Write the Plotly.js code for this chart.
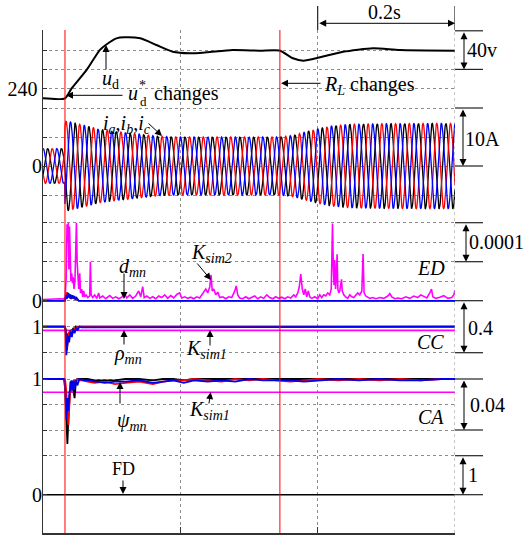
<!DOCTYPE html>
<html><head><meta charset="utf-8">
<script src="https://cdn.plot.ly/plotly-3.0.1.min.js"></script>
<style>html,body{margin:0;padding:0;background:#fff;}#chart{width:523px;height:536px;}</style>
</head><body><div id="chart"></div>
<script>
// ================= DATA =================
const timeRange = [0, 0.6];              // s
const eventTimes = [0.032, 0.345];       // u*d step, R_L step (s)

// DC voltage u_d (V)
const udT = [0, 0.032, 0.0414, 0.0641, 0.0826, 0.0913, 0.107, 0.119, 0.1417, 0.165, 0.189, 0.2137, 0.238, 0.276, 0.3157, 0.3445, 0.364, 0.379, 0.4035, 0.437, 0.481, 0.5196, 0.6];
const udV = [230, 230, 240, 260, 280, 285.3, 292.2, 293.3, 292.2, 285.3, 278.3, 276.7, 277.7, 280.1, 279.4, 279.5, 271.5, 269, 272.5, 278.3, 281.9, 280, 279.4];

// three-phase currents: amplitude envelope (A), 50 Hz carrier
const curEnvT = [0, 0.0319, 0.032, 0.04, 0.06, 0.083, 0.11, 0.14, 0.17, 0.2, 0.25, 0.345, 0.365, 0.38, 0.40, 0.42, 0.45, 0.5, 0.6];
const curEnvA = [3.0, 3.0, 7.8, 7.6, 7.0, 6.3, 5.9, 5.5, 5.1, 5.0, 5.0, 5.0, 5.3, 5.8, 6.4, 6.9, 7.2, 7.3, 7.35];
const curFreq = 50;            // Hz
const curPeakT = 0.0335;       // s, first i_a peak after the step
const phaseNames = ['i_c', 'i_a', 'i_b'];
const phaseShiftDeg = [-240, 0, -120];
const phaseColors = ['#000000', '#ff0000', '#0000ff'];

// ED panel: K_sim2 (time in ms, value in 1e-5)
const edT = [0, 9.8, 17.0, 24.3, 30.2, 32.3, 33.8, 35.0, 36.0, 36.9, 37.7, 38.6, 39.6, 40.6, 41.8, 43.0, 44.0, 45.2, 46.5, 47.6, 48.7, 49.7, 50.8, 52.0, 53.5, 54.6, 56.4, 57.8, 59.3, 60.7, 62.9, 65.1, 68.0, 69.0, 70.1, 72.4, 75.3, 78.2, 81.1, 82.6, 87.0, 91.3, 97.2, 101.5, 105.9, 110.3, 114.6, 119.0, 121.9, 126.3, 130.6, 135.0, 139.4, 142.3, 145.2, 147.4, 151.1, 155.5, 159.8, 164.2, 168.5, 172.9, 177.3, 181.6, 186.0, 190.4, 194.8, 199.1, 202.0, 206.4, 210.8, 215.1, 219.5, 223.9, 228.2, 232.6, 237.0, 239.9, 242.8, 244.7, 246.5, 248.6, 251.6, 254.5, 257.4, 261.8, 266.1, 270.5, 274.9, 279.3, 281.4, 283.6, 286.5, 290.9, 295.3, 299.6, 304.0, 308.4, 312.7, 317.1, 321.5, 325.9, 330.2, 334.6, 339.0, 343.3, 347.7, 352.1, 356.4, 360.8, 365.2, 368.1, 371.0, 373.2, 375.4, 377.6, 379.8, 381.9, 384.1, 386.3, 388.5, 391.4, 395.7, 400.1, 403.0, 406.0, 408.9, 411.8, 414.7, 417.6, 419.8, 421.6, 422.9, 423.9, 424.9, 426.1, 427.2, 428.3, 429.4, 430.7, 432.2, 433.7, 434.7, 435.8, 438.0, 440.9, 443.8, 446.8, 449.7, 452.6, 455.5, 458.4, 461.3, 464.3, 466.1, 467.6, 470.1, 473.0, 475.9, 480.3, 484.6, 490.5, 496.3, 502.1, 505.0, 507.9, 512.3, 516.7, 522.5, 528.3, 534.2, 540.0, 545.8, 550.2, 554.5, 558.9, 563.3, 565.8, 567.6, 572.0, 577.8, 583.7, 589.5, 595.3, 598.2, 600];
const edV = [0.3, 0.4, 0.3, 0.5, 0.4, 1.0, 6, 19.6, 15, 20, 8, 19, 12, 5, 7, 4.5, 6, 3, 5, 12, 20, 10, 6, 3, 7, 2, 3, 1, 2.5, 1, 1.5, 0.8, 1.2, 10, 1.5, 0.8, 1.5, 0.6, 2, 0.7, 1.2, 0.5, 1.3, 0.6, 1, 0.5, 0.9, 1.8, 0.7, 1.5, 0.6, 1.2, 2.5, 1, 3.6, 0.8, 1.2, 0.6, 1, 0.5, 1.2, 0.8, 1.5, 0.6, 1.3, 0.7, 1.6, 2, 0.7, 1, 0.6, 0.9, 0.5, 1, 0.7, 2, 3, 2, 3.5, 6.6, 2.5, 3, 1.5, 2.2, 0.8, 1, 0.5, 1, 0.8, 2.5, 3.8, 1.5, 0.7, 0.5, 1, 0.5, 0.8, 1.2, 0.5, 1, 0.6, 1.5, 0.8, 0.5, 1, 0.6, 0.9, 0.5, 1, 0.7, 1.5, 1, 2, 3.5, 6.8, 3, 1.5, 3, 1, 2.5, 1, 0.6, 1, 0.5, 1.5, 0.8, 1.5, 1.2, 2, 1.5, 3, 19.8, 8, 4, 10.4, 3, 6, 11.9, 3, 2, 2.5, 4, 5.5, 2.5, 1.5, 1, 0.6, 1.5, 1, 0.8, 1.5, 2, 1.5, 2.5, 12, 2, 1.2, 1, 0.6, 0.8, 0.5, 0.8, 0.6, 1.2, 1.8, 1, 0.5, 0.7, 0.5, 1, 0.6, 1.2, 0.8, 1.5, 1, 0.7, 2, 3, 1, 0.6, 0.9, 1.3, 0.6, 0.8, 1.5, 2.7];

// ED panel: d_mn (time in ms, value in 1e-5)
const dT = [0, 32, 33.5, 35, 36.5, 38, 39.5, 41, 42.5, 44, 45.5, 47, 49, 52, 600];
const dBlack = [0, 0, 1.0, 1.6, 1.4, 1.0, 1.2, 1.0, 0.7, 0.9, 0.6, 0.5, 0.2, 0, 0];
const dRed = [0, 0, 0.8, 2.2, 1.0, 1.8, 0.5, 1.5, 0.9, 1.3, 0.4, 1.0, 0.3, 0, 0];
const dBlue = [0, 0, 1.5, 0.5, 2.0, 0.8, 1.6, 0.4, 1.4, 0.6, 1.2, 0.3, 0.8, 0, 0];

// CC panel: rho_mn (time in ms)
const rhoT = [0, 32, 33, 34, 35, 36.5, 38, 40, 42, 44, 46, 48, 50, 53, 56, 600];
const rhoBlack = [1, 1, 0.98, 0.88, 0.82, 0.95, 0.92, 0.97, 0.95, 0.99, 0.97, 1, 0.99, 1, 1, 1];
const rhoRed = [1, 1, 0.97, 0.9, 0.834, 0.9, 0.96, 0.93, 0.98, 0.96, 0.99, 0.98, 1, 1, 1, 1];
const rhoBlue = [1, 1, 0.95, 0.78, 0.85, 0.93, 0.88, 0.96, 0.92, 0.98, 0.95, 0.99, 0.97, 1, 0.995, 1];
const kSim1CC = 0.972;

// CA panel: psi_mn (time in ms)
const psiT = [0, 31, 32.5, 34, 35.5, 37, 38.5, 40, 41.5, 43, 44.5, 46, 48, 50, 53, 58, 65, 75, 90, 105, 120, 140, 160, 175, 190, 205, 220, 240, 260, 280, 300, 320, 340, 360, 380, 400, 430, 460, 490, 520, 550, 580, 600];
const psiBlack = [1, 1, 0.99, 0.96, 0.949, 0.97, 0.985, 0.998, 0.995, 0.998, 0.99, 0.985, 0.998, 1, 1, 1, 1, 0.999, 0.999, 0.999, 1, 1, 0.999, 1, 1, 0.999, 1, 1, 1, 1, 1, 1, 1, 1, 1, 1, 1, 1, 1, 1, 1, 1, 1];
const psiRed = [1, 1, 0.998, 0.99, 0.975, 0.964, 0.98, 0.995, 0.99, 0.998, 0.995, 0.999, 0.998, 1, 0.999, 0.999, 0.998, 0.997, 0.998, 0.996, 0.997, 0.998, 0.996, 0.998, 0.999, 0.999, 1, 0.999, 0.998, 1, 0.999, 1, 0.999, 0.998, 0.999, 1, 0.999, 1, 0.999, 1, 0.999, 1, 1];
const psiBlue = [1, 1, 0.99, 0.968, 0.985, 0.975, 0.99, 0.992, 0.999, 0.991, 0.999, 0.992, 0.999, 0.995, 1, 0.999, 0.999, 0.998, 0.997, 0.998, 0.998, 0.999, 0.997, 0.998, 0.999, 0.997, 0.999, 0.998, 0.999, 0.998, 1, 0.999, 0.999, 0.999, 0.998, 0.999, 1, 0.999, 1, 0.999, 0.999, 1, 1];
const kSim1CA = 0.9896;

// FD panel
const fdT = [0, 0.6];
const fdV = [0, 0];

// ================= LAYOUT HELPERS =================
const FONT = 'Liberation Serif, Times New Roman, DejaVu Serif, serif';
const T = 30, B = 533, L = 43, R = 455;
const X = px => (px - L) / (R - L);
const Y = py => (B - py) / (B - T);
function rng(v0, p0, unitPx) { return [v0 - (B - p0) / unitPx, v0 + (p0 - T) / unitPx]; }
function interp(xs, ys, x) {
  if (x <= xs[0]) return ys[0];
  for (let i = 1; i < xs.length; i++) {
    if (x <= xs[i]) { const f = (x - xs[i - 1]) / (xs[i] - xs[i - 1]); return ys[i - 1] + f * (ys[i] - ys[i - 1]); }
  }
  return ys[ys.length - 1];
}
const ms = a => a.map(v => v / 1000);

// ================= TRACES =================
const traces = [];
traces.push({x: udT, y: udV, yaxis: 'y', mode: 'lines', line: {color: '#000', width: 2, shape: 'spline', smoothing: 0.6}, hoverinfo: 'skip'});

const tS = [];
for (let k = 0; k <= 1200; k++) tS.push(timeRange[0] + k * 0.0005);
phaseShiftDeg.forEach((sh, p) => {
  const y = tS.map(t => interp(curEnvT, curEnvA, t) * Math.cos(2 * Math.PI * curFreq * (t - curPeakT) + sh * Math.PI / 180));
  traces.push({x: tS, y: y, yaxis: 'y2', mode: 'lines', name: phaseNames[p], line: {color: phaseColors[p], width: 1.3}, hoverinfo: 'skip'});
});

traces.push({x: ms(edT), y: edV.map(v => v * 1e-5), yaxis: 'y3', mode: 'lines', line: {color: '#ff00ff', width: 1.6}, hoverinfo: 'skip'});
[[dBlack, '#000'], [dRed, '#ff0000'], [dBlue, '#0000ee']].forEach(([arr, c]) => {
  traces.push({x: ms(dT), y: arr.map(v => v * 1e-5), yaxis: 'y3', mode: 'lines', line: {color: c, width: 1.6}, hoverinfo: 'skip'});
});

traces.push({x: timeRange, y: [kSim1CC, kSim1CC], yaxis: 'y4', mode: 'lines', line: {color: '#ff00ff', width: 1.6}, hoverinfo: 'skip'});
[[rhoBlack, '#000'], [rhoRed, '#ff0000'], [rhoBlue, '#0000ee']].forEach(([arr, c]) => {
  traces.push({x: ms(rhoT), y: arr, yaxis: 'y4', mode: 'lines', line: {color: c, width: 1.8}, hoverinfo: 'skip'});
});

traces.push({x: timeRange, y: [kSim1CA, kSim1CA], yaxis: 'y5', mode: 'lines', line: {color: '#ff00ff', width: 1.6}, hoverinfo: 'skip'});
[[psiBlack, '#000'], [psiRed, '#ff0000'], [psiBlue, '#0000ee']].forEach(([arr, c]) => {
  traces.push({x: ms(psiT), y: arr, yaxis: 'y5', mode: 'lines', line: {color: c, width: 1.8}, hoverinfo: 'skip'});
});

traces.push({x: fdT, y: fdV, yaxis: 'y6', mode: 'lines', line: {color: '#000', width: 1.6}, hoverinfo: 'skip'});

// ================= AXES =================
const GRID = '#8c8c8c';
function yax(range, vals, texts, extra) {
  return Object.assign({
    range: range, tickmode: 'array', tickvals: vals, ticktext: texts,
    ticks: 'inside', ticklen: 4, tickcolor: '#333', tickwidth: 1,
    showgrid: true, gridcolor: GRID, griddash: 'dot', gridwidth: 1,
    zeroline: false, showline: false, anchor: 'x', side: 'left',
    tickfont: {family: FONT, size: 20, color: '#000'}, fixedrange: true
  }, extra || {});
}
const layout = {
  width: 523, height: 536,
  font: {family: FONT, size: 20, color: '#000'},
  margin: {l: L, r: 523 - R, t: T, b: 536 - B, pad: 0},
  paper_bgcolor: '#fff', plot_bgcolor: '#fff', showlegend: false,
  xaxis: {range: timeRange, tickmode: 'array', tickvals: [0.2, 0.4], showticklabels: false,
    ticks: 'inside', ticklen: 6, tickcolor: '#333', showgrid: true, gridcolor: GRID, griddash: 'dot',
    zeroline: false, showline: true, linecolor: '#333', linewidth: 1.5, fixedrange: true},
  yaxis: yax(rng(240, 88.7, 38.6 / 40), [300, 280, 260, 240], ['', '', '', '240'], {showline: true, linecolor: '#333', linewidth: 1.5}),
  yaxis2: yax(rng(0, 166, 5.8), [10, 5, 0, -5], ['', '', '0', ''], {overlaying: 'y'}),
  yaxis3: yax(rng(0, 300.7, 390000), [0.0002, 0.00015, 0.0001, 0.00005, 0], ['', '', '', '', '0'], {overlaying: 'y'}),
  yaxis4: yax(rng(1, 326.7, 130), [1, 0.8], ['1', ''], {overlaying: 'y'}),
  yaxis5: yax(rng(1, 379, 1275), [1, 0.98, 0.96], ['1', '', ''], {overlaying: 'y'}),
  yaxis6: yax(rng(0, 494.7, 39), [1, 0], ['', '0'], {overlaying: 'y'}),
  shapes: [], annotations: []
};

// event lines
eventTimes.forEach(t => layout.shapes.push({type: 'line', xref: 'x', x0: t, x1: t, yref: 'paper', y0: 0, y1: 1, line: {color: '#ff0000', width: 1}}));
// right dotted border
layout.shapes.push({type: 'line', xref: 'x', x0: 0.6, x1: 0.6, yref: 'paper', y0: 0, y1: 1, line: {color: GRID, width: 1, dash: 'dot'}});
// 0.2 s bracket
[0.4, 0.6].forEach(t => layout.shapes.push({type: 'line', xref: 'x', x0: t, x1: t, yref: 'paper', y0: 1, y1: Y(6), line: {color: '#222', width: 1.2}}));

// right scale brackets: [axis, top value, bottom value, arrow x px, label, label x px, label y px]
const brackets = [
  ['y', 300, 260, 464, '40v', 482, 50],
  ['y2', 10, 0, 463, '10A', 482.5, 138.5],
  ['y3', 0.0002, 0.0001, 466, '0.0001', 496, 242],
  ['y4', 1.2, 0.8, 464, '0.4', 480, 328],
  ['y5', 1, 0.96, 464, '0.04', 487, 405],
  ['y6', 1, 0, 463, '1', 473.5, 475]
];
brackets.forEach(([ax, v1, v2, apx, lab, lx, ly]) => {
  [v1, v2].forEach(v => layout.shapes.push({type: 'line', xref: 'paper', x0: 1, x1: X(483), yref: ax, y0: v, y1: v, line: {color: '#222', width: 1.2}}));
  layout.annotations.push({xref: 'paper', x: X(apx), yref: ax, y: v2, axref: 'pixel', ax: 0, ayref: ax, ay: v1, text: '', showarrow: true,
    arrowhead: 2, startarrowhead: 2, arrowside: 'end+start', arrowsize: 1.4, startarrowsize: 1.4, arrowwidth: 1, arrowcolor: '#000', standoff: 0, startstandoff: 0});
  layout.annotations.push({xref: 'paper', yref: 'paper', x: X(lx), y: Y(ly), xanchor: 'center', yanchor: 'middle', text: lab, showarrow: false, font: {family: FONT, size: 20, color: '#000'}});
});
// 0.2 s double arrow + label
layout.annotations.push({xref: 'x', x: 0.6, axref: 'x', ax: 0.4, yref: 'paper', y: Y(23.3), ayref: 'pixel', ay: 0, text: '', showarrow: true,
  arrowhead: 2, startarrowhead: 2, arrowside: 'end+start', arrowsize: 1.4, startarrowsize: 1.4, arrowwidth: 1, arrowcolor: '#000', standoff: 0, startstandoff: 0});
layout.annotations.push({xref: 'paper', yref: 'paper', x: X(384), y: Y(12.5), xanchor: 'center', yanchor: 'middle', text: '0.2s', showarrow: false, font: {family: FONT, size: 20, color: '#000'}});

// pointer arrows: head px, tail offset px
const arrows = [
  [106, 45, 0, 26], [66, 95.3, 58, 0], [162, 136, -15, -14], [281, 83.3, 41, 0],
  [124, 299, 0, -27], [211, 280, -15, -18], [124, 330, 0, 16], [210, 330, 0, 17],
  [120, 382, 0, 23], [210.7, 392, -2, 13], [123, 494, 0, -15]
];
arrows.forEach(([hx, hy, ax, ay]) => layout.annotations.push({xref: 'paper', yref: 'paper', x: X(hx), y: Y(hy), ax: ax, ay: ay, axref: 'pixel', ayref: 'pixel',
  text: '', showarrow: true, arrowhead: 2, arrowsize: 1.4, arrowwidth: 1, arrowcolor: '#000', standoff: 0}));

// text labels: [html, x px, y px, xanchor, size]
const labels = [
  ['<i>u</i><sub>d</sub>', 100, 79, 'left', 20],
  ['<i>u</i>', 126, 93, 'left', 20],
  ['*', 137, 86, 'left', 14],
  ['d', 138, 101, 'left', 13],
  ['changes', 152, 93, 'left', 20],
  ['<i>i</i><sub><i>a</i></sub>,<i>i</i><sub><i>b</i></sub>,<i>i</i><sub><i>c</i></sub>', 101, 124, 'left', 20],
  ['<i>R</i><sub><i>L</i></sub> changes', 322, 86, 'left', 20],
  ['<i>d</i><sub><i>mn</i></sub>', 117, 267, 'left', 20],
  ['<i>K</i><sub><i>sim2</i></sub>', 189, 253, 'left', 20],
  ['<i>ED</i>', 430.5, 268, 'center', 20],
  ['<i>ρ</i><sub><i>mn</i></sub>', 112, 355, 'left', 20],
  ['<i>K</i><sub><i>sim1</i></sub>', 184, 349, 'left', 20],
  ['<i>CC</i>', 430.5, 342, 'center', 20],
  ['<i>ψ</i><sub><i>mn</i></sub>', 115, 421, 'left', 20],
  ['<i>K</i><sub><i>sim1</i></sub>', 187, 410, 'left', 20],
  ['<i>CA</i>', 431, 417, 'center', 20],
  ['FD', 123.5, 469, 'center', 18]
];
labels.forEach(([txt, lx, ly, xa, sz]) => layout.annotations.push({xref: 'paper', yref: 'paper', x: X(lx), y: Y(ly), xanchor: xa, yanchor: 'middle',
  text: txt, showarrow: false, font: {family: FONT, size: sz, color: '#000'}}));

Plotly.newPlot('chart', traces, layout, {displayModeBar: false, staticPlot: true});
</script></body></html>
